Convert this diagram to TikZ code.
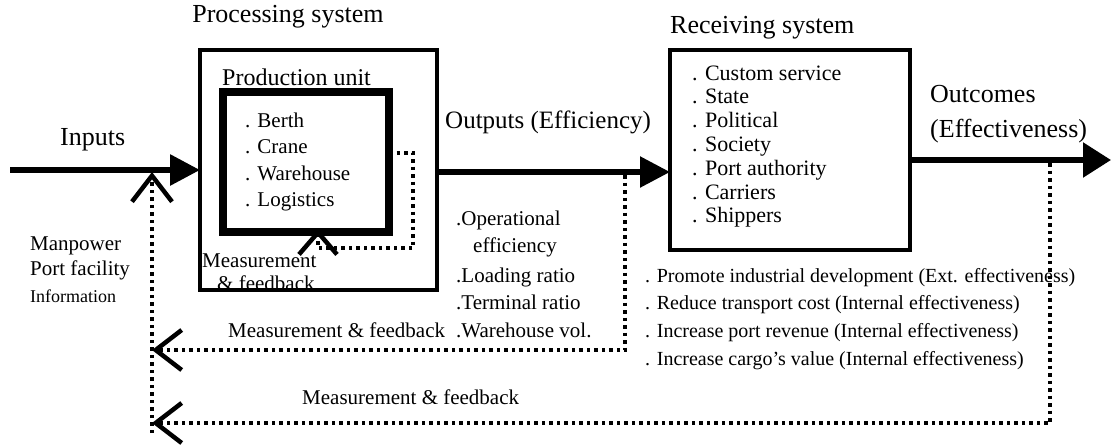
\documentclass[tikz,border=0pt]{standalone}
\usepackage{fontspec}
\setmainfont{Liberation Serif}
\usetikzlibrary{arrows.meta}
\tikzset{
  lbl/.style={inner sep=0pt, anchor=base west},
  ctr/.style={inner sep=0pt, anchor=base},
  box/.style={draw, line width=4pt, inner sep=0pt, outer sep=0pt},
  thickbox/.style={draw, line width=7.5pt, inner sep=0pt, outer sep=0pt},
  flow/.style={line width=5.5pt, -{Triangle[length=30pt,width=30pt]}},
  fbline/.style={line width=3.5pt, dash pattern=on 3.5pt off 4pt},
  fbtip/.style={fbline, -{Straight Barb[length=26pt,width=40pt,line width=4.5pt]}},
}
\newcommand\fs[1]{\fontsize{#1}{#1}\selectfont}
\begin{document}
\begin{tikzpicture}[x=1pt,y=-1pt]
\useasboundingbox (0,0) rectangle (1111,445);

% inner measurement label (under the box line)
\node[lbl] (meas1) at (202,267) {\fs{21}Measurement};
\node[lbl] (meas2) at (217,290) {\fs{21}\& feedback};

% boxes
\node[box, minimum width=237pt, minimum height=240pt] (proc) at (318.5,170) {};
\node[thickbox, minimum width=166pt, minimum height=140pt] (prod) at (306,162) {};
\node[box, minimum width=240pt, minimum height=200pt] (recv) at (790,150) {};

% titles
\node[ctr] (ptitle) at (288,22) {\fs{26}Processing system};
\node[lbl] (rtitle) at (670,33) {\fs{26}Receiving system};
\node[lbl] (punit) at (222,85) {\fs{24}Production unit};

% production unit items
\node[lbl] (pu1) at (245,127) {\fs{21}. Berth};
\node[lbl] (pu2) at (245,153) {\fs{21}. Crane};
\node[lbl] (pu3) at (245,180) {\fs{21}. Warehouse};
\node[lbl] (pu4) at (245,206) {\fs{21}. Logistics};

% receiving items
\node[lbl] (r1) at (692,80) {\fs{22}. Custom service};
\node[lbl] (r2) at (692,103.8) {\fs{22}. State};
\node[lbl] (r3) at (692,127.6) {\fs{22}. Political};
\node[lbl] (r4) at (692,151.4) {\fs{22}. Society};
\node[lbl] (r5) at (692,175.2) {\fs{22}. Port authority};
\node[lbl] (r6) at (692,199) {\fs{22}. Carriers};
\node[lbl] (r7) at (692,222.8) {\fs{22}. Shippers};

% flow labels
\node[lbl] (inputs) at (60,145) {\fs{26}Inputs};
\node[lbl] (outputs) at (445,128) {\fs{25}Outputs (Efficiency)};
\node[lbl] (outc1) at (930,102) {\fs{26}Outcomes};
\node[lbl] (outc2) at (930,137) {\fs{26}(Effectiveness)};

% input resources
\node[lbl] (in1) at (30,250) {\fs{21}Manpower};
\node[lbl] (in2) at (30,275) {\fs{21}Port facility};
\node[lbl] (in3) at (30,302) {\fs{18}Information};

% output measures
\node[lbl] (m1) at (456,225) {\fs{21}.Operational};
\node[lbl] (m2) at (473,252) {\fs{21}efficiency};
\node[lbl] (m3) at (456,282) {\fs{21}.Loading ratio};
\node[lbl] (m4) at (456,309) {\fs{21}.Terminal ratio};
\node[lbl] (m5) at (456,337) {\fs{21}.Warehouse vol.};
\node[lbl] (mf1) at (228,337) {\fs{21}Measurement \& feedback};

% outcome measures
\node[lbl] (e1) at (645,282) {\fs{20}. Promote industrial development (Ext. effectiveness)};
\node[lbl] (e2) at (645,309) {\fs{20}. Reduce transport cost (Internal effectiveness)};
\node[lbl] (e3) at (645,337) {\fs{20}. Increase port revenue (Internal effectiveness)};
\node[lbl] (e4) at (645,365) {\fs{20}. Increase cargo’s value (Internal effectiveness)};
\node[lbl] (mf2) at (302,404) {\fs{21}Measurement \& feedback};

% main flows
\coordinate (instart) at (10,170);
\coordinate (outend) at (1111,160);
\coordinate (outy) at (0,172);
\draw[flow, line width=6pt] (instart) -- (proc.west);
\draw[flow] (proc.east |- outy) -- (recv.west |- outy);
\draw[line width=5.5pt, -{Triangle[length=28pt,width=34pt]}] (recv.east |- outend) -- (outend);

% feedback loops
\coordinate (fa1) at (625,175);
\coordinate (fa2) at (625,350);
\coordinate (fa3) at (152,350);
\draw[fbtip] (fa1) -- (fa2) -- (fa3);

\coordinate (fb1) at (1050,163);
\coordinate (fb2) at (1050,423);
\coordinate (fb3) at (152,423);
\coordinate (fb0) at (152,433);
\coordinate (fc) at (152,172);
\draw[fbtip] (fb1) -- (fb2) -- (fb3);
\draw[fbtip] (fb0) -- (fc);

% inner feedback
\coordinate (iy) at (0,153);
\coordinate (i2) at (413,153);
\coordinate (i3) at (413,248);
\coordinate (i4) at (318,248);
\coordinate (i5) at (318,229);
\draw[fbline, -{Straight Barb[length=22pt,width=38pt,line width=4.5pt]}] (prod.east |- iy) -- (i2) -- (i3) -- (i4) -- (i5);

\end{tikzpicture}
\end{document}
